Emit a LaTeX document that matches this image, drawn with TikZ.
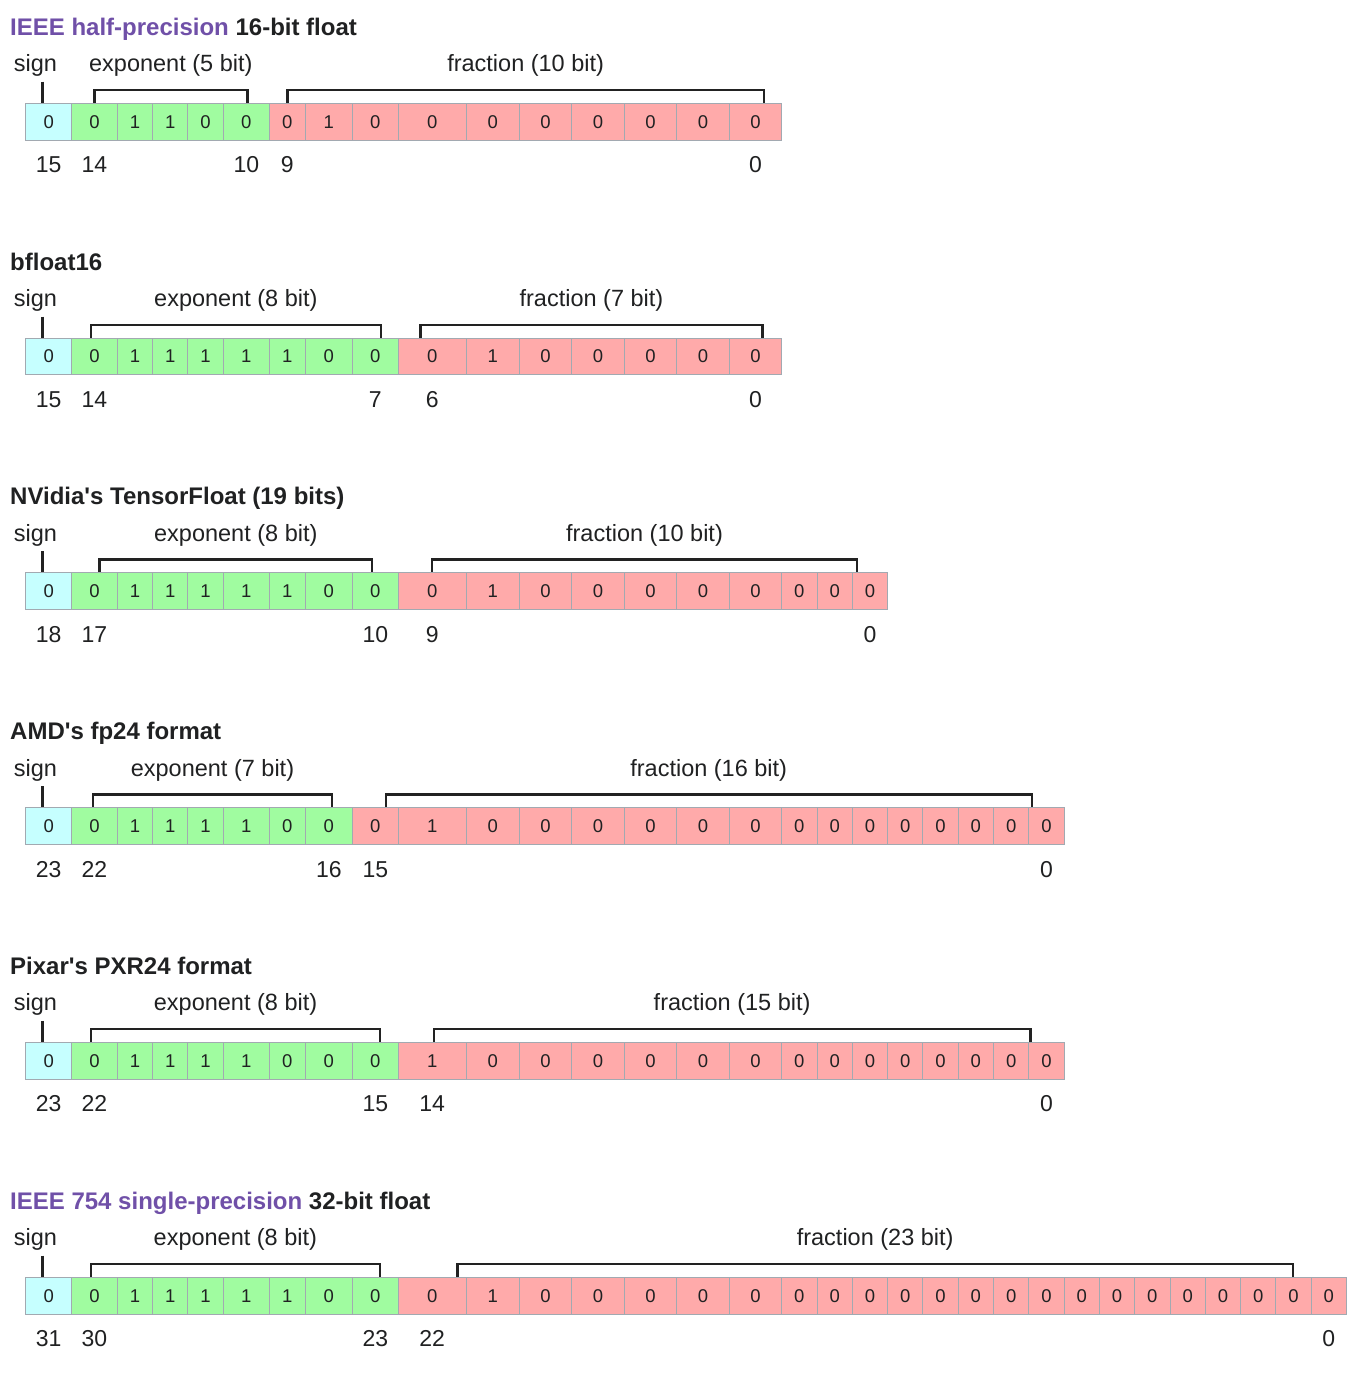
\documentclass[tikz,border=0pt]{standalone}
\usepackage{fontspec}
\setmainfont{Liberation Sans}[Ligatures=TeXOff]
\definecolor{signc}{HTML}{C6FFFF}
\definecolor{expc}{HTML}{A0FCA0}
\definecolor{fracc}{HTML}{FFAAAA}
\definecolor{gridc}{HTML}{A2A9B1}
\definecolor{txtc}{HTML}{202122}
\definecolor{linkc}{HTML}{7050A8}
\definecolor{brkc}{HTML}{222222}
\def\B{{25.7,71.7,117.3,152.7,187.7,223.3,269.3,305.3,352.3,398.3,466,519.3,571.7,624.3,676.7,729.3,781.7,817,852.3,887.6,922.9,958.2,993.5,1028.8,1064.1,1099.4,1134.7,1170,1205.3,1240.6,1275.9,1311.2,1346.5}}
\tikzset{
  cellbox/.style={draw=gridc, line width=1, inner sep=0, outer sep=0, minimum height=36.7, text=txtc, font=\fontsize{18.5}{20}\selectfont},
  numtxt/.style={anchor=base, inner sep=0, text=txtc, font=\fontsize{23}{26}\selectfont},
  lbl/.style={anchor=base, inner sep=0, text=txtc, font=\fontsize{23.5}{26}\selectfont},
  ttl/.style={anchor=base west, inner sep=0, text=txtc, font=\fontsize{24}{28}\selectfont\bfseries},
  brkline/.style={draw=brkc, line width=2.4},
}
\newcommand\bitrow[4]{%
  \foreach \v [count=\i from 0] in {#4} {
    \pgfmathsetmacro\xa{\B[\i]}
    \pgfmathsetmacro\xb{\B[\i+1]}
    \pgfmathsetmacro\cellw{\xb-\xa}
    \ifnum\i=0 \def\fc{signc}\else\ifnum\i>#3 \def\fc{fracc}\else\def\fc{expc}\fi\fi
    \node[cellbox, fill=\fc, minimum width=\cellw] (#1-\i) at ({(\xa+\xb)/2}, {121.65+#2}) {\v};
  }
}
\newcommand\bitnum[4]{%
  \pgfmathsetmacro\xa{\B[#3]}
  \pgfmathsetmacro\xb{\B[#3+1]}
  \node[numtxt] (#1-n#3) at ({(\xa+\xb)/2}, {172.7+#2}) {#4};
}
\newcommand\brackets[7]{%
  \draw[brkline] (42.3,{81.7+#2}) -- (42.3,{103.3+#2});
  \node[lbl] (#1-sign) at (35.5,{71.7+#2}) {sign};
  \draw[brkline] (#3,{103.3+#2}) |- (#4,{90+#2}) -- (#4,{103.3+#2});
  \draw[brkline] (#5,{103.3+#2}) |- (#6,{90+#2}) -- (#6,{103.3+#2});
  \node[lbl] (#1-exp) at ({(#3+#4)/2},{71.7+#2}) {exponent (#7 bit)};
}
\newcommand\fraclabel[5]{%
  \node[lbl] (#1-frac) at ({(#3+#4)/2},{71.7+#2}) {fraction (#5 bit)};
}
\begin{document}
\begin{tikzpicture}[x=1pt,y=-1pt]
\useasboundingbox[fill=white] (0,0) rectangle (1350,1400);

% IEEE half
\node[ttl] (t0) at (10,35.3) {{\color{linkc}IEEE half-precision} 16-bit float};
\brackets{h}{0}{94.3}{247.3}{287.3}{764}{5}
\fraclabel{h}{0}{287.3}{764}{10}
\bitrow{h}{0}{5}{0,0,1,1,0,0,0,1,0,0,0,0,0,0,0,0}
\bitnum{h}{0}{0}{15}\bitnum{h}{0}{1}{14}\bitnum{h}{0}{5}{10}\bitnum{h}{0}{6}{9}\bitnum{h}{0}{15}{0}

% bfloat16
\node[ttl] (t1) at (10,270.1) {bfloat16};
\brackets{b}{234.8}{91}{380.7}{420.5}{762.4}{8}
\fraclabel{b}{234.8}{420.5}{762.4}{7}
\bitrow{b}{234.8}{8}{0,0,1,1,1,1,1,0,0,0,1,0,0,0,0,0}
\bitnum{b}{234.8}{0}{15}\bitnum{b}{234.8}{1}{14}\bitnum{b}{234.8}{8}{7}\bitnum{b}{234.8}{9}{6}\bitnum{b}{234.8}{15}{0}

% TensorFloat
\node[ttl] (t2) at (10,504.9) {NVidia's TensorFloat (19 bits)};
\brackets{tf}{469.6}{99.4}{372.2}{432}{857}{8}
\fraclabel{tf}{469.6}{432}{857}{10}
\bitrow{tf}{469.6}{8}{0,0,1,1,1,1,1,0,0,0,1,0,0,0,0,0,0,0,0}
\bitnum{tf}{469.6}{0}{18}\bitnum{tf}{469.6}{1}{17}\bitnum{tf}{469.6}{8}{10}\bitnum{tf}{469.6}{9}{9}\bitnum{tf}{469.6}{18}{0}

% AMD fp24
\node[ttl] (t3) at (10,739.7) {AMD's fp24 format};
\brackets{a}{704.4}{93}{332}{385.7}{1031.7}{7}
\fraclabel{a}{704.4}{385.7}{1031.7}{16}
\bitrow{a}{704.4}{7}{0,0,1,1,1,1,0,0,0,1,0,0,0,0,0,0,0,0,0,0,0,0,0,0}
\bitnum{a}{704.4}{0}{23}\bitnum{a}{704.4}{1}{22}\bitnum{a}{704.4}{7}{16}\bitnum{a}{704.4}{8}{15}\bitnum{a}{704.4}{23}{0}

% Pixar PXR24
\node[ttl] (t4) at (10,974.5) {Pixar's PXR24 format};
\brackets{p}{939.2}{90.9}{380.2}{433.9}{1030.3}{8}
\fraclabel{p}{939.2}{433.9}{1030.3}{15}
\bitrow{p}{939.2}{8}{0,0,1,1,1,1,0,0,0,1,0,0,0,0,0,0,0,0,0,0,0,0,0,0}
\bitnum{p}{939.2}{0}{23}\bitnum{p}{939.2}{1}{22}\bitnum{p}{939.2}{8}{15}\bitnum{p}{939.2}{9}{14}\bitnum{p}{939.2}{23}{0}

% IEEE single
\node[ttl] (t5) at (10,1209.3) {{\color{linkc}IEEE 754 single-precision} 32-bit float};
\brackets{s}{1174}{90.7}{380}{457.3}{1293}{8}
\fraclabel{s}{1174}{457.3}{1293}{23}
\bitrow{s}{1174}{8}{0,0,1,1,1,1,1,0,0,0,1,0,0,0,0,0,0,0,0,0,0,0,0,0,0,0,0,0,0,0,0,0}
\bitnum{s}{1174}{0}{31}\bitnum{s}{1174}{1}{30}\bitnum{s}{1174}{8}{23}\bitnum{s}{1174}{9}{22}\bitnum{s}{1174}{31}{0}
\end{tikzpicture}
\end{document}
